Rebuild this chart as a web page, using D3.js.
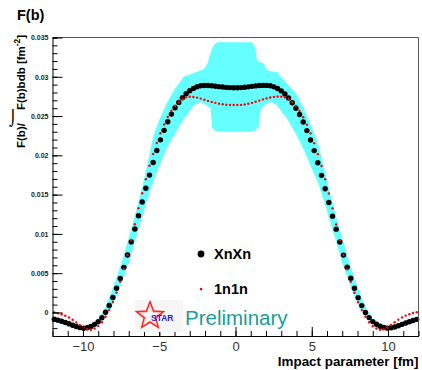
<!DOCTYPE html>
<html>
<head>
<meta charset="utf-8">
<script src="https://cdn.jsdelivr.net/npm/d3@7/dist/d3.min.js"></script>
<style>
  body { margin: 0; background: #fff; }
  svg { display: block; font-family: "Liberation Sans", Arial, sans-serif; }
</style>
</head>
<body>
<svg id="chart" width="422" height="370"></svg>
<script>
// 100 bins of impact parameter between -12 and 12 fm (bin centres)
const bins = d3.range(100).map((i) => -11.88 + 0.24 * i)

// F(b) / int F(b) b db, in units of 1e-3 fm^-2
const xnxn = [
  -0.86, -0.98, -1.12, -1.27, -1.45, -1.64, -1.80, -1.93, -2.01, -1.95,
  -1.78, -1.52, -1.18, -0.68, 0.02, 0.88, 1.90, 3.08, 4.33, 5.74,
  7.32, 8.98, 10.63, 12.30, 14.05, 15.80, 17.48, 19.08, 20.62, 21.97,
  23.18, 24.28, 25.25, 26.05, 26.74, 27.33, 27.83, 28.22, 28.52, 28.73,
  28.85, 28.89, 28.88, 28.85, 28.80, 28.74, 28.69, 28.65, 28.62, 28.60,
  28.60, 28.62, 28.66, 28.72, 28.78, 28.84, 28.88, 28.90, 28.90, 28.85,
  28.72, 28.50, 28.20, 27.80, 27.30, 26.70, 26.00, 25.20, 24.25, 23.15,
  21.95, 20.60, 19.05, 17.45, 15.75, 14.00, 12.25, 10.60, 8.96, 7.30,
  5.75, 4.35, 3.07, 1.88, 0.87, 0.00, -0.66, -1.17, -1.50, -1.75,
  -1.92, -2.00, -1.95, -1.85, -1.70, -1.52, -1.35, -1.18, -1.02, -0.88
]

const n1n1 = [
  0.00, -0.10, -0.24, -0.42, -0.65, -0.94, -1.27, -1.62, -1.93, -2.15,
  -2.20, -2.04, -1.74, -1.24, -0.55, 0.30, 1.32, 2.52, 3.92, 5.52,
  7.32, 9.22, 11.22, 13.27, 15.17, 16.97, 18.67, 20.17, 21.57, 22.82,
  23.92, 24.87, 25.67, 26.32, 26.82, 27.15, 27.38, 27.45, 27.42, 27.35,
  27.22, 27.08, 26.93, 26.80, 26.68, 26.58, 26.50, 26.44, 26.41, 26.40,
  26.40, 26.42, 26.48, 26.56, 26.68, 26.82, 26.97, 27.12, 27.25, 27.36,
  27.44, 27.48, 27.47, 27.38, 27.15, 26.80, 26.30, 25.65, 24.85, 23.90,
  22.80, 21.55, 20.15, 18.65, 16.95, 15.15, 13.25, 11.20, 9.20, 7.30,
  5.50, 3.90, 2.50, 1.30, 0.30, -0.55, -1.25, -1.75, -2.05, -2.20,
  -2.15, -1.92, -1.60, -1.25, -0.92, -0.63, -0.40, -0.22, -0.08, 0.02
]

// uncertainty band of XnXn (1e-3 fm^-2)
const bandB = [
  -12, -11.5, -11.0, -10.6, -10.2, -9.8, -9.4, -9.0, -8.6, -8.2,
  -7.8, -7.4, -7.0, -6.6, -6.2, -5.8, -5.4, -5.0, -4.5, -4.0,
  -3.4, -2.7, -2.3, -2.08, -1.86, -1.64, -1.53, -1.42, -1.3, -1.1,
  0, 1.1, 1.3, 1.42, 1.53, 1.64, 1.86, 2.08, 2.3, 2.7,
  3.4, 4.0, 4.5, 5.0, 5.4, 5.8, 6.2, 6.6, 7.0, 7.4,
  7.8, 8.2, 8.6, 9.0, 9.4, 9.8, 10.2, 10.6, 11.0, 11.5, 12
]
const bandHi = [
  -0.6, -0.85, -1.2, -1.5, -1.72, -1.72, -1.42, -0.8, 0.4, 2.3,
  4.4, 6.8, 9.5, 12.3, 15.3, 18.6, 22.4, 24.5, 26.7, 28.4,
  30.0, 30.5, 30.8, 31.0, 31.6, 33.0, 33.6, 34.0, 34.3, 34.4,
  34.4, 34.4, 33.7, 32.0, 31.9, 31.85, 31.7, 30.8, 30.7, 30.6,
  29.1, 27.8, 25.9, 23.6, 21.6, 18.5, 15.2, 12.25, 9.5, 6.8,
  4.35, 2.25, 0.4, -0.75, -1.35, -1.65, -1.65, -1.45, -1.2, -0.85, -0.6
]
const bandLo = [
  -1.1, -1.45, -1.8, -2.05, -2.25, -2.25, -1.95, -1.45, -0.65, 0.4,
  2.05, 4.05, 6.3, 9.0, 11.6, 14.2, 16.6, 18.6, 20.9, 22.6,
  24.6, 26.4, 26.8, 26.6, 26.3, 26.0, 23.5, 23.3, 23.1, 23.0,
  23.0, 23.0, 23.2, 23.4, 23.6, 25.7, 26.3, 26.6, 26.8, 26.4,
  24.6, 22.6, 20.6, 18.3, 16.6, 14.2, 11.6, 9.0, 6.3, 4.05,
  2.05, 0.4, -0.65, -1.45, -1.95, -2.25, -2.25, -2.05, -1.8, -1.45, -1.15
]

const xTicks = [-10, -5, 0, 5, 10]
const xTickLabels = ['\u221210', '\u22125', '0', '5', '10']
const yTicks = [0, 0.005, 0.01, 0.015, 0.02, 0.025, 0.03, 0.035]
const yTickLabels = ['0', '0.005', '0.01', '0.015', '0.02', '0.025', '0.03', '0.035']
const legendLabels = ['XnXn', '1n1n']

const m = { left: 52.5, right: 418.5, top: 37.5, bottom: 336 }

const svg = d3.select('#chart')

const x = d3.scaleLinear([-12, 12], [m.left, m.right])
const y = d3.scaleLinear([-0.003, 0.035], [m.bottom, m.top])

// band
const band = bandB.map((b, i) => ({ b, hi: bandHi[i] / 1000, lo: bandLo[i] / 1000 }))
svg.append('path')
  .datum(band)
  .attr('fill', '#66ffff')
  .attr('d', d3.area().x((d) => x(d.b)).y0((d) => y(d.lo)).y1((d) => y(d.hi)))

// XnXn points
svg.append('g')
  .selectAll('circle')
  .data(bins.map((b, i) => ({ b, v: xnxn[i] / 1000 })))
  .join('circle')
  .attr('cx', (d) => x(d.b))
  .attr('cy', (d) => y(d.v))
  .attr('r', 2.7)
  .attr('fill', '#000')

// 1n1n points
svg.append('g')
  .selectAll('circle')
  .data(bins.map((b, i) => ({ b, v: n1n1[i] / 1000 })))
  .join('circle')
  .attr('cx', (d) => x(d.b))
  .attr('cy', (d) => y(d.v))
  .attr('r', 1.2)
  .attr('fill', '#ff0000')

// frame
svg.append('path')
  .attr('d', `M${ m.left },${ m.top }H${ m.right }V${ m.bottom }`)
  .attr('fill', 'none')
  .attr('stroke', '#555')
  .attr('stroke-width', 1)

// Y axis
const yAxisEl = svg.append('g')
  .attr('transform', `translate(${ m.left },0)`)
  .call(d3.axisLeft(y).tickValues(d3.range(-3, 36).map((v) => v / 1000)).tickSize(-5).tickFormat(''))
svg.append('g')
  .attr('transform', `translate(${ m.left },0)`)
  .call(d3.axisLeft(y).tickValues(yTicks).tickSizeInner(-10).tickSizeOuter(0).tickPadding(4)
    .tickFormat((d, i) => yTickLabels[i]))
  .call((g) => g.select('.domain').remove())
  .selectAll('text')
  .attr('font-size', 7)
  .attr('font-weight', 'bold')
  .attr('fill', '#222')
  .style('font-family', '"Liberation Sans", Arial, sans-serif')
yAxisEl.select('.domain').attr('stroke', '#000')

// X axis
const xAxisEl = svg.append('g')
  .attr('transform', `translate(0,${ m.bottom })`)
  .call(d3.axisBottom(x).tickValues(d3.range(-12, 13)).tickSize(-5).tickSizeOuter(0).tickFormat(''))
svg.append('g')
  .attr('transform', `translate(0,${ m.bottom })`)
  .call(d3.axisBottom(x).tickValues(xTicks).tickSizeInner(-9).tickSizeOuter(0).tickPadding(6)
    .tickFormat((d, i) => xTickLabels[i]))
  .call((g) => g.select('.domain').remove())
  .selectAll('text')
  .attr('font-size', 13)
  .attr('fill', '#333')
  .style('font-family', '"Liberation Sans", Arial, sans-serif')
xAxisEl.select('.domain').attr('stroke', '#000')

svg.selectAll('.tick line').attr('stroke', '#000')

// titles
svg.append('text')
  .attr('x', 17)
  .attr('y', 20)
  .attr('font-size', 14.5)
  .attr('font-weight', 'bold')
  .text('F(b)')

svg.append('text')
  .attr('x', m.right)
  .attr('y', 366)
  .attr('text-anchor', 'end')
  .attr('font-size', 13.4)
  .attr('font-weight', 'bold')
  .text('Impact parameter [fm]')

const yLabel = svg.append('text')
  .attr('transform', 'translate(25,148) rotate(-90)')
  .attr('font-size', 11.5)
  .attr('font-weight', 'bold')
yLabel.append('tspan').text('F(b)/')
yLabel.append('tspan').attr('dx', 13).text('F(b)bdb [fm')
yLabel.append('tspan').attr('font-size', 8.5).attr('dy', -5).text('-2')
yLabel.append('tspan').attr('dy', 5).text(']')
svg.append('text')
  .attr('x', 9)
  .attr('y', 123)
  .attr('font-size', 15)
  .attr('font-family', '"DejaVu Sans", sans-serif')
  .text('\u2321')

// legend
const legend = svg.append('g')
legend.selectAll('text')
  .data(legendLabels)
  .join('text')
  .attr('x', 214)
  .attr('y', (d, i) => 259 + i * 35)
  .attr('font-size', 14.5)
  .attr('font-weight', 'bold')
  .text((d) => d)
legend.append('circle').attr('cx', 201).attr('cy', 254).attr('r', 3.4).attr('fill', '#000')
legend.append('circle').attr('cx', 201).attr('cy', 289).attr('r', 1.3).attr('fill', '#ff0000')

// STAR Preliminary stamp
const logo = svg.append('g').attr('transform', 'translate(150,316)')
logo.append('rect').attr('x', -15).attr('y', -16).attr('width', 48).attr('height', 32).attr('fill', '#f6f6f6')
const star = (R, r) => d3.range(10).map((k) => {
  const a = -Math.PI / 2 + (k * Math.PI) / 5
  const rad = k % 2 ? r : R
  return [rad * Math.cos(a), rad * Math.sin(a)]
})
logo.append('path')
  .attr('d', d3.line()(star(14, 6)) + 'Z')
  .attr('fill', 'none')
  .attr('stroke', '#ff2020')
  .attr('stroke-width', 1.6)
logo.append('path')
  .attr('d', d3.line()(star(11.5, 4.6)) + 'Z')
  .attr('fill', 'none')
  .attr('stroke', '#ffb0b0')
  .attr('stroke-width', 0.8)
logo.append('text')
  .attr('x', 1)
  .attr('y', 5)
  .attr('font-size', 8.5)
  .attr('font-weight', 'bold')
  .attr('fill', '#2020ee')
  .text('STAR')
svg.append('text')
  .attr('x', 185)
  .attr('y', 325)
  .attr('font-size', 20.5)
  .attr('fill', '#1a9c9c')
  .text('Preliminary')
</script>
</body>
</html>
